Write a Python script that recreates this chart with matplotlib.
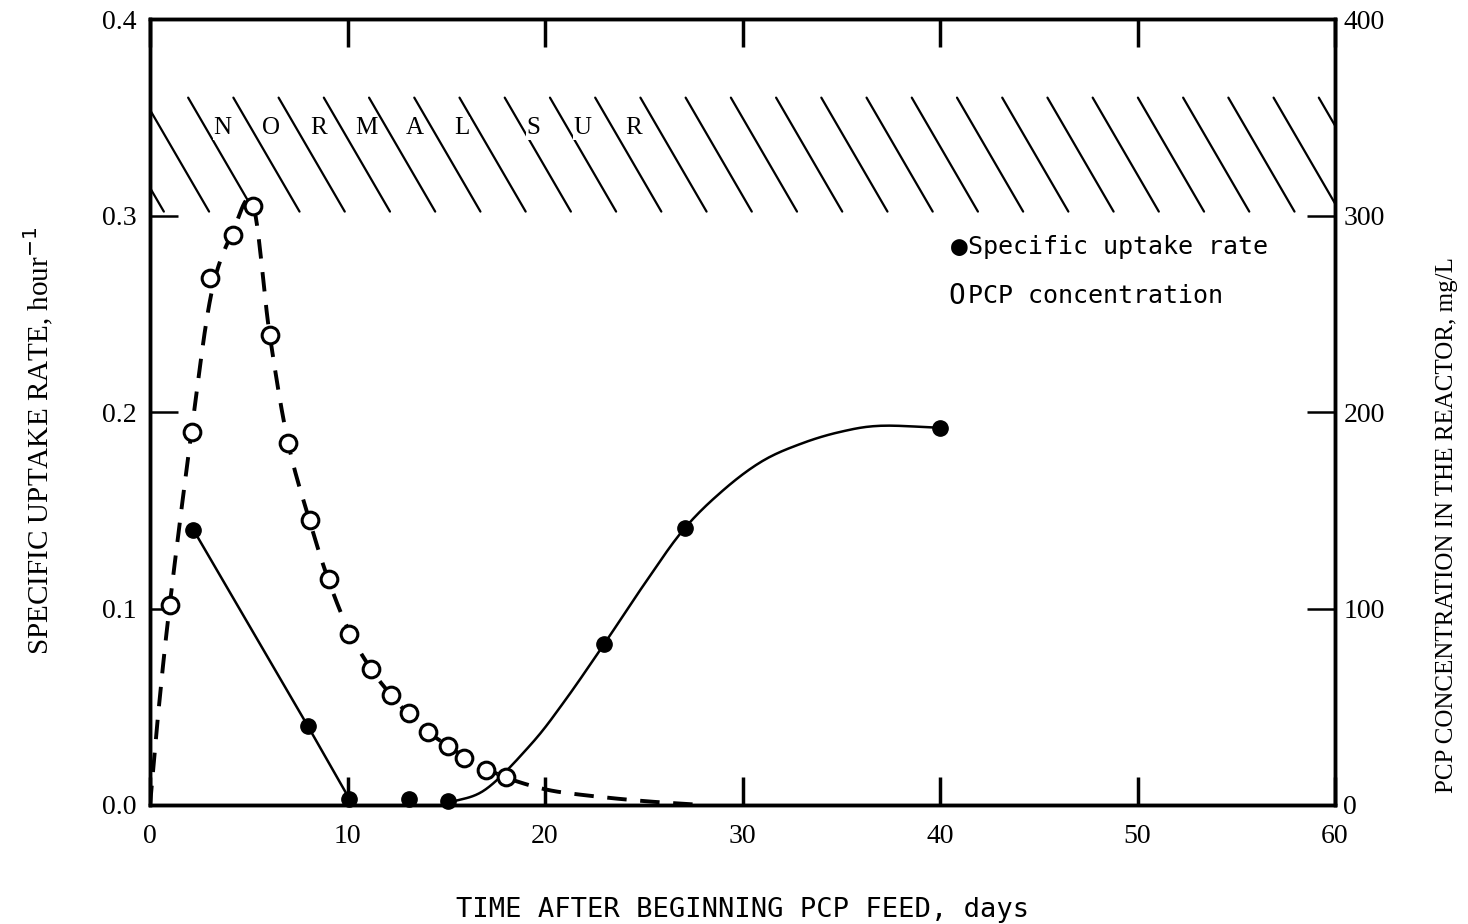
import numpy as np
import matplotlib
matplotlib.use("Agg")
import matplotlib.pyplot as plt

# Specific uptake rate (left axis, hour^-1) - filled circles
sur_days = [2.2, 8.0, 10.1, 13.1, 15.1, 23.0, 27.1, 40.0]
sur_rate = [0.140, 0.040, 0.003, 0.003, 0.002, 0.082, 0.141, 0.192]

# PCP concentration (right axis, mg/L) - open circles
pcp_days = [1.0, 2.1, 3.05, 4.2, 5.2, 6.05, 7.0, 8.1, 9.05, 10.1, 11.2,
            12.2, 13.1, 14.1, 15.1, 15.9, 17.0, 18.0]
pcp_conc = [102, 190, 268, 290, 305, 239, 184, 145, 115, 87, 69,
            56, 47, 37, 30, 24, 18, 14]

# hand-drawn curves
sur_line1_days = [2.2, 8.0, 10.1]
sur_line1_rate = [0.140, 0.040, 0.003]
sur_curve_days = [15.1, 17, 19.3, 21, 23, 25, 27, 29, 31, 33, 35, 37, 40]
sur_curve_rate = [0.001, 0.008, 0.031, 0.053, 0.082, 0.112, 0.140, 0.160,
                  0.175, 0.184, 0.190, 0.193, 0.192]
pcp_curve_days = [0, 0.4, 1.0, 2.1, 3.1, 4.2, 5.2, 6.05, 7.0, 8.1, 9.05,
                  10.1, 11.2, 12.2, 13.1, 14.1, 15.1, 16, 17, 18, 20, 22,
                  25, 28]
pcp_curve_conc = [0, 45, 102, 190, 260, 292, 306, 240, 184, 144, 114,
                  88, 69, 56, 46, 37, 30, 24, 19, 14, 8, 5,
                  2, 0]

band_letters = ["N", "O", "R", "M", "A", "L", "S", "U", "R"]
band_letter_days = [3.66, 6.1, 8.55, 10.95, 13.4, 15.8, 19.4, 21.9, 24.5]

gothic = "DejaVu Sans Mono"
serif = "Liberation Serif"


def smooth(xs, ys, n=12):
    # catmull-rom through the traced points so the curve is not kinked
    x = np.asarray(xs, float)
    y = np.asarray(ys, float)
    px = np.concatenate([[2 * x[0] - x[1]], x, [2 * x[-1] - x[-2]]])
    py = np.concatenate([[2 * y[0] - y[1]], y, [2 * y[-1] - y[-2]]])
    outx, outy = [], []
    t = np.linspace(0, 1, n, endpoint=False)
    for i in range(1, len(px) - 2):
        for p, out in ((px, outx), (py, outy)):
            p0, p1, p2, p3 = p[i - 1], p[i], p[i + 1], p[i + 2]
            out.extend(0.5 * (2 * p1 + (-p0 + p2) * t
                              + (2 * p0 - 5 * p1 + 4 * p2 - p3) * t ** 2
                              + (-p0 + 3 * p1 - 3 * p2 + p3) * t ** 3))
    outx.append(x[-1])
    outy.append(y[-1])
    return outx, outy


fig = plt.figure(figsize=(14.68, 9.24), dpi=100)
ax = fig.add_axes([0.1022, 0.1288, 0.8072, 0.8506])
ax2 = ax.twinx()

# normal SUR band: slanted hatch lines
band_top, band_bot = 0.36, 0.302
for x0 in np.arange(1.93 - 2 * 2.29, 60, 2.29):
    ax.plot([x0, x0 + 3.35], [band_top, band_bot], color="black", lw=1.6,
            solid_capstyle="round")
for s, d in zip(band_letters, band_letter_days):
    ax.text(d, 0.3445, s, fontsize=18, family=serif, ha="center",
            va="center", bbox=dict(fc="white", ec="none", pad=0.3))

# specific uptake rate
ax.plot(sur_line1_days, sur_line1_rate, color="black", lw=1.8)
cx, cy = smooth(sur_curve_days, sur_curve_rate)
ax.plot(cx, cy, color="black", lw=1.8)
ax.plot(sur_days, sur_rate, "o", color="black", ms=11, clip_on=False)

# PCP concentration
px_, py_ = smooth(pcp_curve_days, pcp_curve_conc)
ax2.plot(px_, np.clip(py_, 0, None), color="black", lw=2.8, dashes=(5, 3.5))
ax2.plot(pcp_days, pcp_conc, "o", mfc="white", mec="black", mew=2.2,
         ms=12, clip_on=False)

ax.set_xlim(0, 60)
ax.set_ylim(0, 0.4)
ax2.set_ylim(0, 400)

ax.set_xticks(range(0, 61, 10))
ax.set_yticks([0.0, 0.1, 0.2, 0.3, 0.4])
ax.set_yticklabels(["0.0", "0.1", "0.2", "0.3", "0.4"])
ax2.set_yticks([0, 100, 200, 300, 400])

ax.tick_params(axis="x", direction="in", top=True, length=20, width=2.5,
               pad=14)
ax.tick_params(axis="y", direction="in", length=20, width=1.8, pad=10)
ax2.tick_params(axis="y", direction="in", length=20, width=1.8, pad=6)
for a in (ax, ax2):
    for sp in a.spines.values():
        sp.set_linewidth(2.5)
    for lab in a.get_xticklabels() + a.get_yticklabels():
        lab.set_family(serif)
        lab.set_fontsize(20)

ax.set_xlabel("TIME AFTER BEGINNING PCP FEED, days", family=gothic,
              fontsize=19.5, labelpad=34)
ax.set_ylabel("SPECIFIC UPTAKE RATE, hour$^{-1}$", family=serif,
              fontsize=21)
ax.yaxis.set_label_coords(-0.079, 0.464)
ax2.set_ylabel("PCP CONCENTRATION IN THE REACTOR, mg/L", family=serif,
               fontsize=18)
ax2.yaxis.set_label_coords(1.085, 0.356)

# legend written as text
ax.text(0.676, 0.710, "\u25cf", transform=ax.transAxes, family=gothic,
        fontsize=20, va="center", ha="left")
ax.text(0.690, 0.710, "Specific uptake rate", transform=ax.transAxes,
        family=gothic, fontsize=18, va="center", ha="left")
ax.text(0.674, 0.648, "O", transform=ax.transAxes, family=gothic,
        fontsize=20, va="center", ha="left")
ax.text(0.690, 0.648, "PCP concentration", transform=ax.transAxes,
        family=gothic, fontsize=18, va="center", ha="left")

fig.savefig("out.png", dpi=100)
